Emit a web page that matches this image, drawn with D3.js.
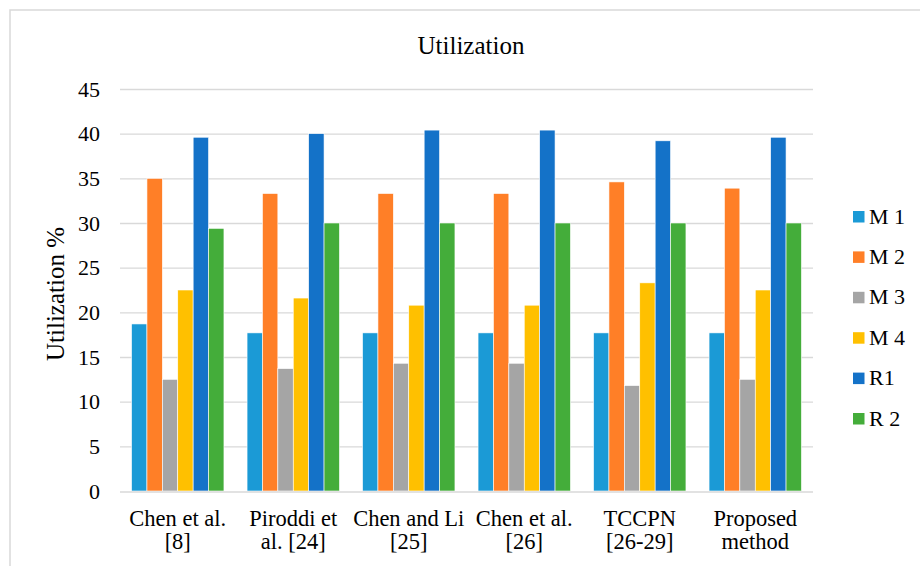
<!DOCTYPE html>
<html>
<head>
<meta charset="utf-8">
<script src="https://cdn.jsdelivr.net/npm/d3@7"></script>
<style>
  body { margin: 0; background: #fff; }
  svg text { font-family: "Liberation Serif", "Times New Roman", serif; fill: #000; }
</style>
</head>
<body>
<div id="chart"></div>
<script>
// Data
const categories = [
  ["Chen et al.", "[8]"],
  ["Piroddi et", "al. [24]"],
  ["Chen and Li", "[25]"],
  ["Chen et al.", "[26]"],
  ["TCCPN", "[26-29]"],
  ["Proposed", "method"]
]
const seriesNames = ["M 1", "M 2", "M 3", "M 4", "R1", "R 2"]
const m1 = [18.7, 17.7, 17.7, 17.7, 17.7, 17.7]
const m2 = [35.0, 33.3, 33.3, 33.3, 34.6, 33.9]
const m3 = [12.5, 13.7, 14.3, 14.3, 11.8, 12.5]
const m4 = [22.5, 21.6, 20.8, 20.8, 23.3, 22.5]
const r1 = [39.6, 40.0, 40.4, 40.4, 39.2, 39.6]
const r2 = [29.4, 30.0, 30.0, 30.0, 30.0, 30.0]
const yTicks = [0, 5, 10, 15, 20, 25, 30, 35, 40, 45]

const seriesValues = [m1, m2, m3, m4, r1, r2]
const colors = ["#1b9ad6", "#ff7f27", "#a5a5a5", "#ffc000", "#1472c8", "#44ad3a"]

// Dimensions
const width = 920
const height = 566
const plot = {left: 120, right: 813, top: 89, bottom: 491}

const svg = d3.select("#chart")
  .append("svg")
    .attr("width", width)
    .attr("height", height)

// Outer chart border
svg.append("rect")
    .attr("x", 10)
    .attr("y", 10)
    .attr("width", 930)
    .attr("height", 600)
    .attr("fill", "none")
    .attr("stroke", "#d9d9d9")
    .attr("stroke-width", 1.5)

// Scales
const x0 = d3.scaleBand()
    .domain(d3.range(categories.length))
    .range([plot.left, plot.right])
    .paddingInner(0.2)
    .paddingOuter(0.1)

const x1 = d3.scaleBand()
    .domain(d3.range(seriesNames.length))
    .range([0, x0.bandwidth()])

const y = d3.scaleLinear()
    .domain([0, 45])
    .range([plot.bottom, plot.top])

// Grid lines
svg.append("g")
    .attr("class", "grid")
    .attr("transform", `translate(${plot.left},0)`)
    .call(d3.axisLeft(y)
      .tickValues(yTicks.slice(1))
      .tickSizeInner(-(plot.right - plot.left))
      .tickSizeOuter(0)
      .tickFormat(""))
  .call(g => g.select(".domain").remove())
  .call(g => g.selectAll("line").attr("stroke", "#d9d9d9").attr("stroke-width", 1.3))

// Y tick labels
svg.append("g")
    .attr("transform", `translate(${plot.left},0)`)
    .call(d3.axisLeft(y)
      .tickValues(yTicks)
      .tickSize(0)
      .tickPadding(20))
  .call(g => g.select(".domain").remove())
  .call(g => g.selectAll("text")
    .style("font-size", "22px")
    .style("font-family", "Liberation Serif"))

// Bars
const groups = svg.append("g")
  .selectAll("g")
  .data(categories)
  .join("g")
    .attr("transform", (d, i) => `translate(${x0(i)},0)`)

groups.selectAll("rect")
  .data((d, i) => seriesValues.map((vals, s) => ({s: s, v: vals[i]})))
  .join("rect")
    .attr("x", d => x1(d.s))
    .attr("y", d => y(d.v))
    .attr("width", x1.bandwidth())
    .attr("height", d => y(0) - y(d.v))
    .attr("fill", d => colors[d.s])
    .attr("stroke", "#fff")
    .attr("stroke-width", 0.6)

// X axis line
svg.append("line")
    .attr("x1", plot.left)
    .attr("x2", plot.right)
    .attr("y1", y(0) + 1)
    .attr("y2", y(0) + 1)
    .attr("stroke", "#d9d9d9")
    .attr("stroke-width", 1.5)

// X labels (two lines)
const xLabels = svg.append("g")
  .selectAll("text")
  .data(categories)
  .join("text")
    .attr("x", (d, i) => x0(i) + x0.bandwidth() / 2)
    .attr("y", 526)
    .attr("text-anchor", "middle")
    .style("font-size", "22.5px")

xLabels.selectAll("tspan")
  .data(d => d)
  .join("tspan")
    .attr("x", function() { return this.parentNode.getAttribute("x") })
    .attr("dy", (d, i) => i === 0 ? 0 : 22.5)
    .text(d => d)

// Title
svg.append("text")
    .attr("x", 471)
    .attr("y", 54)
    .attr("text-anchor", "middle")
    .style("font-size", "25px")
    .text("Utilization")

// Y axis title
svg.append("text")
    .attr("transform", "translate(63.5,294) rotate(-90)")
    .attr("text-anchor", "middle")
    .style("font-size", "25px")
    .text("Utilization %")

// Legend
const legend = svg.append("g")
  .selectAll("g")
  .data(seriesNames)
  .join("g")
    .attr("transform", (d, i) => `translate(853,${211 + i * 40.4})`)

legend.append("rect")
    .attr("x", 0)
    .attr("y", 0)
    .attr("width", 11.5)
    .attr("height", 11.5)
    .attr("fill", (d, i) => colors[i])

legend.append("text")
    .attr("x", 16)
    .attr("y", 12.5)
    .style("font-size", "22px")
    .text(d => d)
</script>
</body>
</html>
